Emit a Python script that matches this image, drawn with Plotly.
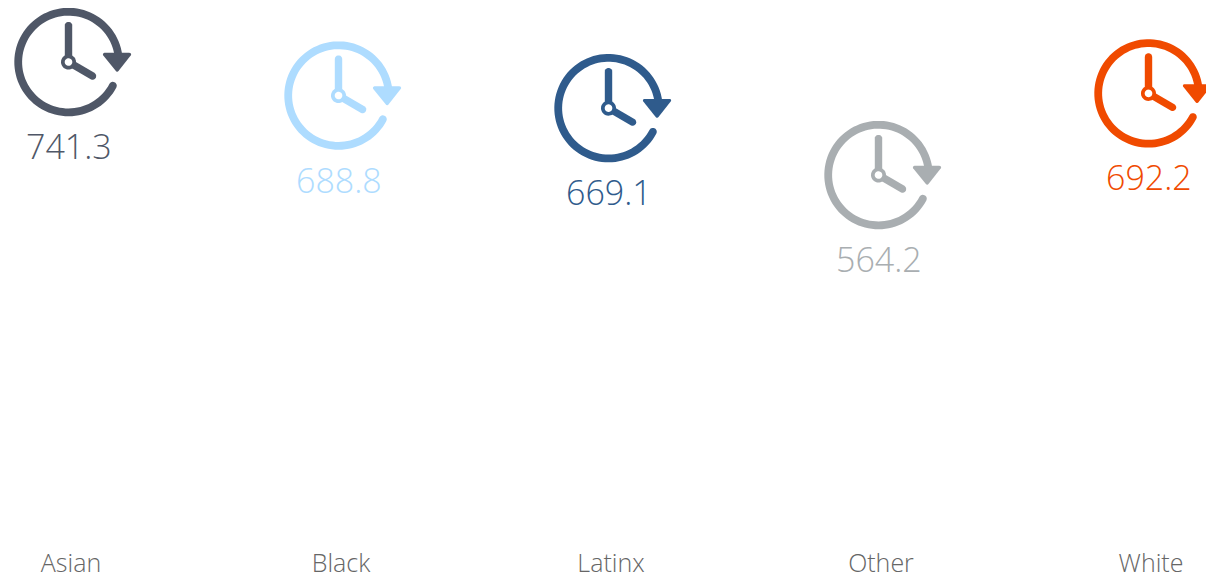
import numpy as np
import plotly.graph_objects as go

categories = ["Asian", "Black", "Latinx", "Other", "White"]
values = [741.3, 688.8, 669.1, 564.2, 692.2]
value_labels = ["741.3", "688.8", "669.1", "564.2", "692.2"]
colors = ["#4f5767", "#aedcff", "#2f5b8c", "#a9aeb1", "#f04a00"]

FONT = "Open Sans"
ICON_DX = -2.5


def path_from(points):
    return "M" + " L".join(f"{x + ICON_DX:.2f},{y:.2f}" for x, y in points) + " Z"


def angle_span(a0, a1, n):
    return np.radians(np.linspace(a0, a1, n))


def stadium(p, q, hw):
    base = np.degrees(np.arctan2(q[1] - p[1], q[0] - p[0]))
    pts = []
    for t in angle_span(base + 90, base + 270, 10):
        pts.append((p[0] + hw * np.cos(t), p[1] + hw * np.sin(t)))
    for t in angle_span(base - 90, base + 90, 10):
        pts.append((q[0] + hw * np.cos(t), q[1] + hw * np.sin(t)))
    return path_from(pts)


def ring_arc(r, hw, a0, a1):
    pts = []
    for t in angle_span(a0, a1, 90):
        pts.append(((r + hw) * np.cos(t), (r + hw) * np.sin(t)))
    ex, ey = r * np.cos(np.radians(a1)), r * np.sin(np.radians(a1))
    for t in angle_span(a1, a1 - 180, 8):
        pts.append((ex + hw * np.cos(t), ey + hw * np.sin(t)))
    for t in angle_span(a1, a0, 90):
        pts.append(((r - hw) * np.cos(t), (r - hw) * np.sin(t)))
    sx, sy = r * np.cos(np.radians(a0)), r * np.sin(np.radians(a0))
    for t in angle_span(a0 + 180, a0, 8):
        pts.append((sx + hw * np.cos(t), sy + hw * np.sin(t)))
    return path_from(pts)


def disc(r):
    return path_from([(r * np.cos(t), r * np.sin(t)) for t in angle_span(0, 360, 40)[:-1]])


def rounded_triangle(verts, rad):
    # convex hull of three small discs
    pts = sorted(
        (vx + rad * np.cos(t), vy + rad * np.sin(t))
        for vx, vy in verts
        for t in angle_span(0, 360, 24)[:-1]
    )

    def half(seq):
        out = []
        for p in seq:
            while len(out) > 1 and (
                (out[-1][0] - out[-2][0]) * (p[1] - out[-2][1])
                - (out[-1][1] - out[-2][1]) * (p[0] - out[-2][0])
            ) <= 0:
                out.pop()
            out.append(p)
        return out[:-1]

    return path_from(half(pts) + half(pts[::-1]))


ICON_PARTS = [
    ring_arc(50.3, 3.9, -28, -352),
    stadium((0, 0), (0, 36.5), 3.7),
    stadium((0, 0), (24, -14), 3.7),
    disc(7.5),
    rounded_triangle([(36, 7.6), (61, 7.6), (48.6, -8.0)], 1.6),
]
HOLE = disc(3.8)

shapes = []
for cat, val, col in zip(categories, values, colors):
    common = dict(
        type="path", xref="x", yref="y", xsizemode="pixel", ysizemode="pixel",
        xanchor=cat, yanchor=val,
    )
    for part in ICON_PARTS:
        shapes.append(dict(path=part, fillcolor=col, line=dict(width=0), **common))
    shapes.append(dict(path=HOLE, fillcolor="white", line=dict(width=0), **common))

annotations = [
    dict(
        x=cat, y=val, text=txt, xref="x", yref="y", showarrow=False,
        xshift=-2, yshift=-84, font=dict(family=FONT, size=34, weight=300, color=col),
    )
    for cat, val, txt, col in zip(categories, values, value_labels, colors)
]

fig = go.Figure(
    go.Scatter(
        x=categories, y=values, mode="markers",
        marker=dict(size=100, opacity=0), hovertemplate="%{x}: %{y:.1f}<extra></extra>",
    )
)
fig.update_layout(
    width=1206, height=578, margin=dict(l=0, r=0, t=0, b=38),
    paper_bgcolor="white", plot_bgcolor="white", showlegend=False,
    shapes=shapes, annotations=annotations,
    xaxis=dict(
        type="category", categoryorder="array", categoryarray=categories,
        range=[-0.263, 4.2037], showgrid=False, zeroline=False, showline=False, ticks="",
        tickfont=dict(family=FONT, size=25, weight=300, color="#666666"),
        ticklabelstandoff=6,
    ),
    yaxis=dict(range=[-7.84, 838.6], visible=False),
)
fig.write_html("out.html", post_script="document.body.style.margin='0';", config=dict(displayModeBar=False))
